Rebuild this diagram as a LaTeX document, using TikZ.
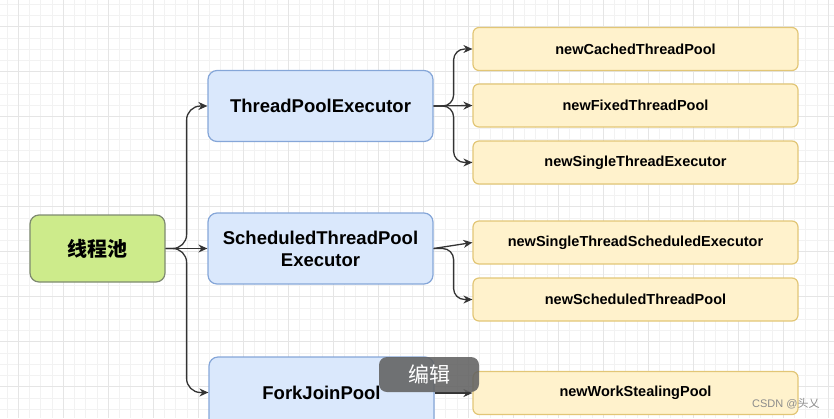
\documentclass[tikz,border=0pt]{standalone}
\usepackage{fontspec}
\setmainfont{Liberation Sans}
\newfontfamily\cjk{Noto Sans CJK SC}
\usetikzlibrary{arrows.meta}

\definecolor{rootfill}{HTML}{CDEB8B}
\definecolor{rootline}{HTML}{7E8A70}
\definecolor{execfill}{HTML}{DAE8FC}
\definecolor{execline}{HTML}{85A6D8}
\definecolor{poolfill}{HTML}{FFF2CC}
\definecolor{poolline}{HTML}{E2C676}
\definecolor{wire}{HTML}{333333}

\tikzset{
  gridminor/.style={draw=black!5, line width=0.8pt},
  gridmajor/.style={draw=black!10, line width=0.8pt},
  rootbox/.style={draw=rootline, fill=rootfill, rounded corners=9pt, line width=1.2pt,
    minimum width=135pt, minimum height=67pt, font=\fontsize{20}{24}\selectfont\cjk\bfseries},
  execbox/.style={draw=execline, fill=execfill, rounded corners=9pt, line width=1.2pt,
    minimum width=225pt, minimum height=71pt, align=center,
    font=\fontsize{18.5}{22}\selectfont\bfseries},
  poolbox/.style={draw=poolline, fill=poolfill, rounded corners=6pt, line width=1.2pt,
    minimum width=325pt, minimum height=43pt, font=\fontsize{14.5}{17}\selectfont\bfseries},
  link/.style={draw=wire, line width=1.3pt, rounded corners=14pt,
    -{Stealth[length=9pt,width=8pt]}},
  editbtn/.style={fill=black!62, fill opacity=0.88, text opacity=1, text=white,
    rounded corners=8pt, minimum width=100pt, minimum height=35pt,
    font=\fontsize{21}{24}\selectfont\cjk},
}

\begin{document}
\begin{tikzpicture}[x=1pt,y=-1pt]
\useasboundingbox (0,0) rectangle (834,418);
\clip (0,0) rectangle (834,418);

% background grid
\foreach \i in {0,...,73} \draw[gridminor] ({7.05+11.25*\i},0) -- ({7.05+11.25*\i},418);
\foreach \i in {0,...,36} \draw[gridminor] (0,{4.2+11.25*\i}) -- (834,{4.2+11.25*\i});
\foreach \i in {0,...,18} \draw[gridmajor] ({18.3+45*\i},0) -- ({18.3+45*\i},418);
\foreach \i in {0,...,9} \draw[gridmajor] (0,{26.7+45*\i}) -- (834,{26.7+45*\i});

% nodes
\node[rootbox] (root) at (97.5,248.5) {线程池};
\node[execbox] (tpe) at (320.5,106) {ThreadPoolExecutor};
\node[execbox] (stpe) at (320.5,248.5) {ScheduledThreadPool\\Executor};
\node[execbox] (fjp) at (321.5,392.5) {ForkJoinPool};

\node[poolbox] (cached) at (635.5,49) {newCachedThreadPool};
\node[poolbox] (fixed) at (635.5,105.5) {newFixedThreadPool};
\node[poolbox] (single) at (635.5,162.5) {newSingleThreadExecutor};
\node[poolbox] (singlesch) at (635.5,242.5) {newSingleThreadScheduledExecutor};
\node[poolbox] (sched) at (635.5,299.5) {newScheduledThreadPool};
\node[poolbox] (steal) at (635.5,393) {newWorkStealingPool};

% connectors
\draw[link] (root.east) -- ++(21,0) |- (tpe.west);
\draw[link] (root.east) -- (stpe.west);
\draw[link] (root.east) -- ++(21,0) |- (fjp.west);

\draw[link, rounded corners=11pt] (tpe.east) -- ++(20,0) |- (cached.west);
\draw[link] (tpe.east) -- (fixed.west);
\draw[link, rounded corners=11pt] (tpe.east) -- ++(20,0) |- (single.west);

\draw[link] (stpe.east) -- (singlesch.west);
\draw[link, rounded corners=11pt] (stpe.east) -- ++(20,0) |- (sched.west);

\draw[link] (fjp.east |- steal.west) -- (steal.west);

% overlay
\node[editbtn] (edit) at (429,374.5) {编辑};
\node[anchor=west, text=black!45, inner sep=0pt] (mark) at (752,404)
  {\fontsize{11}{13}\selectfont CSDN @{\cjk 头乂}};
\end{tikzpicture}
\end{document}
